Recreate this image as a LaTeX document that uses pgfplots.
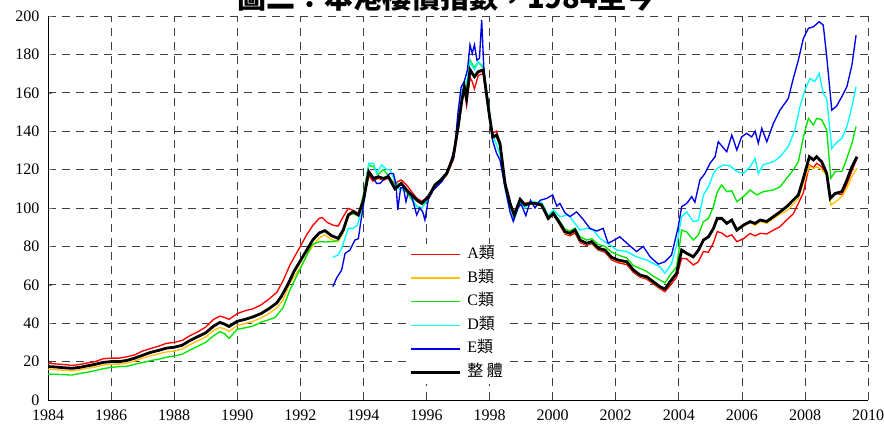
\documentclass[border=0pt]{standalone}
\usepackage{fontspec}
\setmainfont{Liberation Serif}
\newfontfamily\cjk{Noto Sans CJK TC}
\usepackage{pgfplots}
\pgfplotsset{compat=1.18}
\definecolor{cA}{RGB}{255,0,0}
\definecolor{cB}{RGB}{255,192,0}
\definecolor{cC}{RGB}{0,230,0}
\definecolor{cD}{RGB}{0,255,255}
\definecolor{cE}{RGB}{0,0,230}
\begin{document}
\begin{tikzpicture}
\begin{axis}[
  scale only axis, width=820pt, height=384pt,
  xmin=1984, xmax=2010, ymin=0, ymax=200,
  xtick={1984,1986,...,2010}, ytick={0,20,...,200},
  axis x line=bottom, axis y line=left, axis line style={-, line width=0.9pt},
  x tick label style={/pgf/number format/1000 sep={}},
  /pgf/number format/assume math mode=true,
  tick label style={font=\fontsize{16}{16}\selectfont},
  xticklabel style={yshift=-6pt},
  yticklabel style={xshift=-5pt},
  tick align=inside, major tick length=4pt,
  xtick style={draw=none},
  grid=major,
  major grid style={black!75, dash pattern=on 8pt off 6pt, line width=0.8pt},
  legend style={at={(0.437,0.408)}, anchor=north west, draw=none, fill=white,
    font=\fontsize{16}{16}\selectfont, inner sep=3pt,
    nodes={inner sep=0pt, text height=12pt, text depth=4pt},
    row sep=7.6pt, column sep=6pt},
  legend cell align=left,
  legend image code/.code={\draw[#1] (0pt,0pt) -- (49pt,0pt);},
]
\coordinate (bl) at (axis cs:1982.478,-12.5);
\coordinate (tr) at (axis cs:2010.506,208.33);
\coordinate (ttl) at (axis cs:1996.635,203.9);
% A
\addplot[cA, line width=1.35pt] table {
1984.0 19.1
1984.25 18.8
1984.5 18.5
1984.75 18.0
1985.0 18.5
1985.25 19.3
1985.5 20.0
1985.75 21.5
1986.0 21.8
1986.25 21.8
1986.5 22.5
1986.75 23.5
1987.0 25.5
1987.25 26.8
1987.5 28.0
1987.75 29.5
1988.0 30.0
1988.25 31.0
1988.5 33.5
1988.75 35.5
1989.0 38.0
1989.25 42.0
1989.45 43.7
1989.6 43.0
1989.74 42.0
1990.0 45.0
1990.25 46.5
1990.5 47.5
1990.75 49.5
1991.0 52.5
1991.25 56.0
1991.45 62.0
1991.67 70.3
1992.0 80.0
1992.2 86.0
1992.4 91.0
1992.6 94.6
1992.7 95.0
1992.85 92.5
1993.05 91.0
1993.2 90.6
1993.36 95.5
1993.52 99.8
1993.7 98.6
1993.85 97.0
1994.0 105
1994.12 118
1994.3 114
1994.47 115.5
1994.63 114.5
1994.79 115.5
1995.0 113
1995.2 114.6
1995.37 112
1995.55 108
1995.7 105
1995.85 103.5
1996.06 106
1996.27 111
1996.45 114
1996.64 117
1996.85 125
1997.0 140
1997.12 155
1997.2 162
1997.27 153.6
1997.38 168
1997.45 165.8
1997.52 162
1997.64 169
1997.8 170
1997.9 158
1998.0 146
1998.1 139
1998.22 140
1998.33 134
1998.49 113
1998.65 103
1998.78 97
1998.97 104
1999.12 102.5
1999.3 103
1999.44 102.8
1999.65 102
1999.86 95
2000.02 97
2000.23 91
2000.39 86.5
2000.55 85.5
2000.71 87
2000.87 82
2001.08 80.5
2001.24 81.5
2001.45 78
2001.66 77
2001.87 73
2002.08 71.5
2002.35 70.5
2002.56 66.5
2002.77 64
2002.98 63
2003.19 60.5
2003.4 58
2003.56 56.4
2003.72 59.5
2003.93 64
2004.09 73.8
2004.25 73.5
2004.46 70.3
2004.62 72
2004.78 77.3
2004.94 77
2005.1 82
2005.22 87.7
2005.36 87
2005.52 85
2005.68 86
2005.84 82.5
2006.05 84
2006.26 86.8
2006.42 85.5
2006.58 86.8
2006.79 86.5
2007.0 88.5
2007.21 90.3
2007.42 93.75
2007.63 97
2007.79 102.4
2007.95 108
2008.14 122.4
2008.27 121
2008.37 123.3
2008.53 121.5
2008.69 118
2008.8 105
2008.96 107.6
2009.17 107
2009.33 112.5
2009.49 119.5
2009.65 125.9
};
\addlegendentry{A{\cjk 類}}
% B
\addplot[cB, line width=1.35pt] table {
1984.0 16.0
1984.25 15.8
1984.5 15.5
1984.75 15.2
1985.0 15.7
1985.25 16.5
1985.5 17.2
1985.75 18.2
1986.0 18.6
1986.25 18.7
1986.5 19.2
1986.75 20.3
1987.0 21.8
1987.25 23.0
1987.5 24.0
1987.75 25.0
1988.0 25.5
1988.25 26.5
1988.5 28.8
1988.75 30.8
1989.0 32.8
1989.25 36.2
1989.45 37.8
1989.6 37.0
1989.74 35.8
1990.0 38.8
1990.25 39.8
1990.5 41.0
1990.75 42.7
1991.0 45.0
1991.25 48.0
1991.45 52.0
1991.67 61.0
1992.0 69.0
1992.2 75.0
1992.4 80.5
1992.6 84.5
1992.78 86.0
1993.0 83.5
1993.2 82.5
1993.36 87.0
1993.52 95.5
1993.68 97.5
1993.84 95.8
1994.0 103.5
1994.17 118.5
1994.32 115
1994.47 116
1994.63 115
1994.79 116
1995.0 109.5
1995.2 112.2
1995.37 108.8
1995.55 106
1995.69 103.6
1995.85 101.8
1996.06 105.3
1996.27 111.4
1996.45 114
1996.64 117.4
1996.85 126
1997.0 141.5
1997.12 155.5
1997.2 162.5
1997.27 156.5
1997.38 171.5
1997.52 168
1997.64 170.5
1997.8 171.5
1997.9 159
1998.0 147
1998.1 136.5
1998.22 137.5
1998.33 133
1998.49 112.2
1998.65 101.8
1998.78 95.8
1998.97 104
1999.12 101
1999.3 102
1999.44 101.8
1999.65 101
1999.86 94
2000.02 96.6
2000.23 91.4
2000.39 87
2000.55 86.2
2000.71 87.9
2000.87 82.7
2001.08 81
2001.24 81.9
2001.45 78.4
2001.66 77.5
2001.87 73.7
2002.08 72.3
2002.35 71.4
2002.56 67.1
2002.77 64.5
2002.98 63.6
2003.19 61
2003.4 58.4
2003.56 57.3
2003.72 61
2003.93 65.5
2004.09 77.5
2004.25 76
2004.46 74
2004.62 77.5
2004.78 82.8
2004.94 85
2005.1 89
2005.22 94
2005.36 94
2005.52 92
2005.68 93.3
2005.84 88
2006.05 90.5
2006.26 92.4
2006.42 91
2006.58 93
2006.79 92
2007.0 94.5
2007.21 96.8
2007.42 98.5
2007.63 102
2007.79 105
2007.95 113
2008.14 122
2008.27 120.5
2008.37 121.5
2008.53 120
2008.69 117
2008.82 101.6
2008.96 103
2009.17 106
2009.33 110.5
2009.49 116.5
2009.65 120.7
};
\addlegendentry{B{\cjk 類}}
% C
\addplot[cC, line width=1.35pt] table {
1984.0 13.5
1984.25 13.4
1984.5 13.2
1984.75 13.0
1985.0 13.8
1985.25 14.5
1985.5 15.3
1985.75 16.3
1986.0 17.0
1986.25 17.4
1986.5 17.6
1986.75 18.6
1987.0 19.5
1987.25 20.5
1987.5 21.2
1987.75 22.3
1988.0 22.9
1988.25 23.8
1988.5 26.0
1988.75 28.0
1989.0 30.0
1989.25 33.5
1989.45 35.6
1989.6 34.5
1989.74 32.1
1990.0 36.8
1990.25 37.6
1990.5 38.5
1990.75 40.5
1991.0 41.8
1991.2 43.0
1991.45 48.0
1991.67 57.3
1992.04 69.8
1992.36 80.7
1992.6 82.5
1992.8 82.3
1993.05 82.5
1993.2 83.3
1993.36 88
1993.52 96.4
1993.68 97
1993.84 96
1994.0 107
1994.17 122.4
1994.32 121.5
1994.47 117.5
1994.63 120
1994.79 117
1995.0 112
1995.2 113
1995.37 108
1995.55 104
1995.69 101
1995.85 99.8
1996.06 105
1996.27 112.5
1996.45 115
1996.64 118.5
1996.85 127
1997.0 143
1997.12 158
1997.2 165
1997.27 162
1997.38 177
1997.52 173
1997.64 176
1997.8 173
1997.9 161
1998.0 148
1998.1 137
1998.22 137
1998.33 132
1998.49 112
1998.65 101
1998.78 95.5
1998.97 104
1999.12 102
1999.3 103
1999.44 103
1999.65 102.5
1999.86 96
2000.02 98
2000.23 93
2000.39 89
2000.55 88
2000.71 89.5
2000.87 85
2001.08 83.3
2001.24 84
2001.45 81
2001.66 80
2001.87 77
2002.08 75.5
2002.35 74
2002.56 70
2002.77 68.6
2002.98 67
2003.19 64.5
2003.4 62.5
2003.56 61
2003.72 65
2003.93 69.4
2004.09 88.5
2004.25 87.5
2004.46 83.3
2004.62 86
2004.78 92.9
2004.94 94.6
2005.1 100.7
2005.22 108.5
2005.36 112
2005.52 108.5
2005.68 109
2005.84 103.3
2006.05 105.9
2006.26 109.4
2006.47 106.8
2006.68 108.5
2007.0 109.4
2007.21 111
2007.42 115.5
2007.63 119.8
2007.79 124
2007.95 137
2008.11 146.7
2008.27 143.2
2008.37 146.7
2008.53 146
2008.69 140.6
2008.82 115.5
2008.96 119
2009.17 119
2009.33 125.9
2009.49 133.7
2009.62 142.4
};
\addlegendentry{C{\cjk 類}}
% D
\addplot[cD, line width=1.35pt] table {
1993.03 74.3
1993.2 75.5
1993.31 79
1993.52 89.4
1993.68 89.4
1993.81 91
1993.89 96
1994.05 109
1994.17 123.3
1994.32 123.3
1994.42 118
1994.58 122.4
1994.74 120
1994.84 120
1995.0 114
1995.16 109.4
1995.37 109.4
1995.55 105
1995.69 100.7
1995.85 99.8
1996.0 104
1996.27 111.5
1996.45 114
1996.64 117.5
1996.85 127
1997.0 144
1997.12 160
1997.2 166
1997.27 165
1997.38 176
1997.52 172
1997.64 176
1997.8 174
1997.9 162
1998.0 150
1998.1 138
1998.22 133
1998.33 128
1998.49 110
1998.65 98
1998.78 94
1998.97 103
1999.12 100
1999.3 103.5
1999.44 103
1999.65 103
1999.86 96
2000.02 99
2000.23 95.5
2000.5 96.4
2000.66 93
2000.87 88.5
2001.08 89.5
2001.29 88.5
2001.5 84.2
2001.82 80.7
2002.03 78.1
2002.35 77.3
2002.66 74.6
2002.98 72.9
2003.4 69.4
2003.56 66
2003.77 71
2003.93 80.5
2004.09 95.5
2004.25 98
2004.46 92.9
2004.62 93.5
2004.78 106.8
2004.94 111
2005.1 118
2005.22 120.7
2005.41 122.4
2005.62 122
2005.84 119
2006.05 118
2006.26 121.5
2006.42 125.9
2006.52 118
2006.68 122.5
2007.0 124.1
2007.21 126.7
2007.47 132
2007.68 140.6
2007.84 152.8
2008.0 161.5
2008.16 167.5
2008.31 165.8
2008.45 170.1
2008.58 159.7
2008.69 157
2008.85 131
2009.0 134
2009.17 136.3
2009.33 142.4
2009.49 152.8
2009.62 163.2
};
\addlegendentry{D{\cjk 類}}
% E
\addplot[cE, line width=1.35pt] table {
1993.03 59
1993.15 63.5
1993.31 67.7
1993.42 76.4
1993.57 78
1993.73 83.3
1993.84 84
1993.91 92
1994.05 106.8
1994.17 119
1994.32 115.4
1994.42 112.8
1994.53 112.8
1994.68 115.4
1994.84 118
1994.95 118
1995.03 112.8
1995.09 99
1995.18 110.5
1995.27 110.5
1995.35 103.3
1995.42 108
1995.53 106
1995.69 96.4
1995.79 100
1995.88 98
1995.95 93.8
1996.06 104.5
1996.22 109.4
1996.5 114
1996.7 120
1996.9 132
1997.0 150
1997.1 163
1997.2 166
1997.3 172
1997.38 185
1997.45 180.5
1997.52 185
1997.6 177
1997.68 178
1997.75 198
1997.82 172
1997.9 160
1998.0 148
1998.1 135
1998.22 128.6
1998.33 125
1998.5 110
1998.65 98
1998.75 93
1998.9 100
1999.0 102
1999.15 96
1999.3 104
1999.44 100
1999.6 104
1999.81 105
2000.0 106.8
2000.13 101
2000.23 102.4
2000.39 97.5
2000.55 95.5
2000.76 98
2000.97 94
2001.18 89.4
2001.4 88
2001.6 89.4
2001.76 81.6
2001.92 83
2002.13 85
2002.4 81
2002.66 77.3
2002.87 80
2003.09 74.6
2003.35 70.8
2003.56 72
2003.77 75.5
2003.98 90
2004.09 100.7
2004.25 102.4
2004.41 105.9
2004.51 103
2004.67 114.6
2004.83 118
2004.99 123.3
2005.15 126.7
2005.25 134.5
2005.52 129.3
2005.68 138
2005.84 130.2
2005.99 137
2006.15 138.9
2006.31 137
2006.42 140
2006.52 133.7
2006.63 141.5
2006.79 134.5
2007.0 144.1
2007.21 151
2007.47 157
2007.63 167.5
2007.79 177
2007.95 188.4
2008.11 193.6
2008.27 194.4
2008.45 197
2008.58 195.3
2008.69 178.8
2008.79 161.5
2008.85 151
2009.0 153
2009.17 158
2009.33 163.2
2009.49 174.5
2009.62 190
};
\addlegendentry{E{\cjk 類}}
% Overall
\addplot[black, line width=2.8pt] table {
1984.0 17.4
1984.25 17.2
1984.5 16.8
1984.75 16.5
1985.0 17.0
1985.25 17.8
1985.5 18.6
1985.75 19.6
1986.0 20.0
1986.25 20.0
1986.5 20.6
1986.75 21.8
1987.0 23.3
1987.25 24.8
1987.5 25.8
1987.75 27.0
1988.0 27.5
1988.25 28.5
1988.5 31.0
1988.75 33.0
1989.0 35.0
1989.25 38.5
1989.45 40.4
1989.6 39.5
1989.74 38.3
1990.0 41.0
1990.25 42.0
1990.5 43.3
1990.75 45.0
1991.0 47.5
1991.25 50.5
1991.4 54.0
1991.6 60.0
1991.8 67.0
1992.0 72.5
1992.2 78.0
1992.4 83.5
1992.6 87.0
1992.78 88.2
1993.0 85.5
1993.2 84.2
1993.36 88.5
1993.52 96.4
1993.68 98.1
1993.84 96.4
1994.0 104
1994.17 118.9
1994.32 115.4
1994.47 116.3
1994.63 115.4
1994.79 116.3
1995.0 110
1995.2 112.8
1995.37 109.4
1995.55 106.5
1995.69 104.2
1995.85 102.4
1996.06 105.9
1996.27 112
1996.45 114.5
1996.64 118
1996.85 126.7
1997.0 142
1997.12 156
1997.2 163
1997.27 157
1997.38 172
1997.52 168.4
1997.64 171
1997.8 171.9
1997.9 159.7
1998.0 147.6
1998.1 137
1998.22 138
1998.33 133.7
1998.49 112.8
1998.65 102.4
1998.78 96.4
1998.97 104.5
1999.12 101.6
1999.3 102.5
1999.44 102.4
1999.65 101.6
1999.86 94.6
2000.02 97.2
2000.23 92
2000.39 87.7
2000.55 86.8
2000.71 88.5
2000.87 83.3
2001.08 81.6
2001.24 82.5
2001.45 79
2001.66 78.1
2001.87 74.3
2002.08 72.9
2002.35 72
2002.56 67.7
2002.77 65.1
2002.98 64.2
2003.19 61.6
2003.4 59
2003.56 57.8
2003.72 61.5
2003.93 66
2004.09 78.1
2004.25 76.4
2004.46 74.6
2004.62 78
2004.78 83.3
2004.94 85
2005.1 89.4
2005.22 94.6
2005.36 94.6
2005.52 92
2005.68 93.75
2005.84 88.5
2006.05 91.1
2006.26 92.9
2006.42 92
2006.58 93.75
2006.79 93
2007.0 95.5
2007.21 98
2007.42 100.7
2007.63 104.2
2007.79 106.8
2007.95 115.5
2008.14 126.7
2008.27 125
2008.37 126.7
2008.53 124.1
2008.69 118
2008.8 105
2008.96 107.6
2009.17 108.5
2009.33 114.6
2009.49 121.5
2009.65 126.7
};
\addlegendentry{{\cjk 整 體}}
\end{axis}
\node[anchor=base, inner sep=0pt, font=\fontsize{29}{29}\selectfont\cjk\bfseries] at (ttl) {圖二：本港樓價指數，1984至今};
\pgfresetboundingbox
\useasboundingbox (bl) rectangle (tr);
\end{tikzpicture}
\end{document}
